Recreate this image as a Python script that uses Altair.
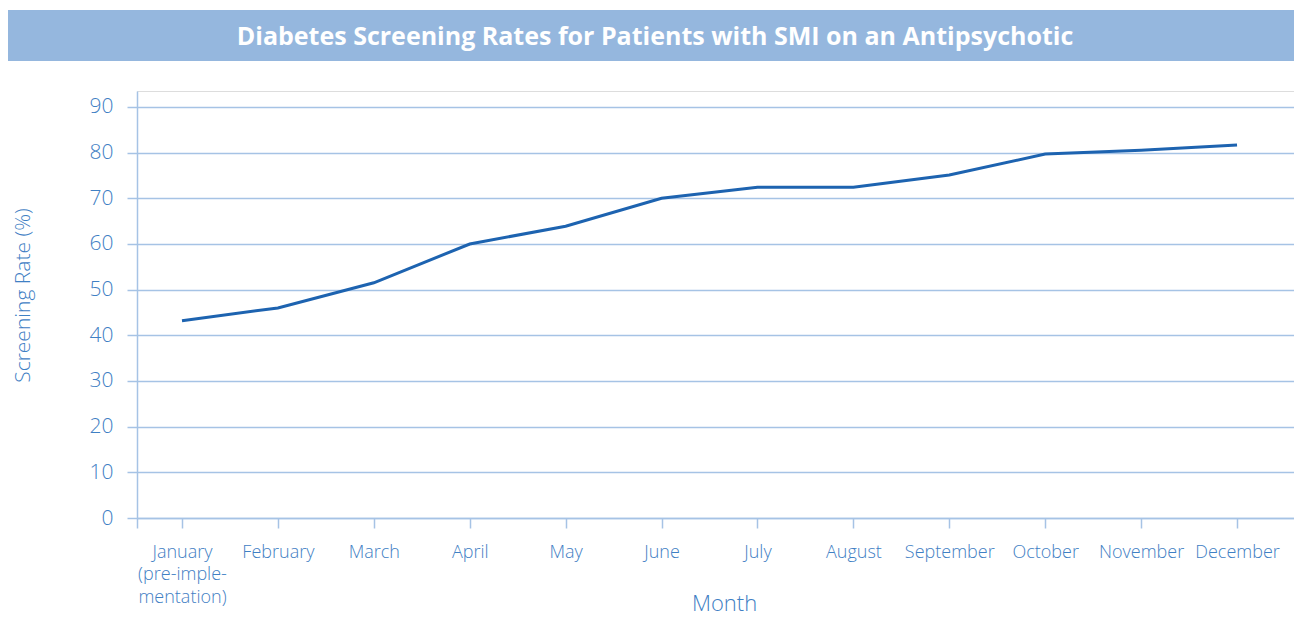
import json
import altair as alt
import pandas as pd

# ---- data ----
months = ["January", "February", "March", "April", "May", "June", "July",
          "August", "September", "October", "November", "December"]
rates = [43.2, 46.0, 51.5, 60.0, 63.9, 70.0, 72.4, 72.4, 75.1, 79.7, 80.5, 81.7]
jan_label = ["January", "(pre-imple-", "mentation)"]
y_ticks = [0, 10, 20, 30, 40, 50, 60, 70, 80, 90]
title_text = "Diabetes Screening Rates for Patients with SMI on an Antipsychotic"

df = pd.DataFrame({"month": months, "idx": list(range(1, len(months) + 1)), "rate": rates})

TEXT = "#3f80c4"
GRID = "#a6c3e5"
LINE = "#1d63b0"
BAND = "#95b7de"
FONT = "Open Sans"

W, H = 1157, 427
x_lo, x_hi = 0.531, 12.594

label_expr = (
    "datum.value < 0.9 ? '' : (datum.value == 1 ? " + json.dumps(jan_label).replace('"', "'")
    + " : " + json.dumps(months).replace('"', "'") + "[datum.value - 1])"
)

base = alt.Chart(df)

line = base.mark_line(color=LINE, strokeWidth=3).encode(
    x=alt.X(
        "idx:Q",
        scale=alt.Scale(domain=[x_lo, x_hi], nice=False, zero=False),
        axis=alt.Axis(
            values=[x_lo] + list(range(1, 13)),
            labelExpr=label_expr,
            title="Month",
            grid=False,
            labelOverlap=False,
            labelFlush=False,
            labelBound=False,
            tickSize=10,
            tickColor=GRID,
            tickWidth=1.5,
            domainColor=GRID,
            domainWidth=1.5,
            labelColor=TEXT,
            labelFont=FONT,
            labelFontSize=18,
            labelFontWeight=300,
            labelPadding=15,
            labelLineHeight=22.5,
            titleColor=TEXT,
            titleFont=FONT,
            titleFontSize=22,
            titleFontWeight=300,
            titleX=587,
            titleY=85,
            titleBaseline="middle",
            titleAlign="center",
        ),
    ),
    y=alt.Y(
        "rate:Q",
        scale=alt.Scale(domain=[0, 93.5], nice=False),
        axis=alt.Axis(
            values=y_ticks,
            title="Screening Rate (%)",
            grid=True,
            gridColor=GRID,
            gridWidth=1.5,
            tickSize=10,
            tickColor=GRID,
            tickWidth=1.5,
            domainColor=GRID,
            domainWidth=1.5,
            labelColor=TEXT,
            labelFont=FONT,
            labelFontSize=21,
            labelFontWeight=300,
            labelPadding=14,
            titleColor=TEXT,
            titleFont=FONT,
            titleFontSize=21,
            titleFontWeight=300,
            titleAngle=270,
            titleX=-114,
            titleY=204,
            titleBaseline="middle",
            titleAlign="center",
        ),
    ),
)

title_df = pd.DataFrame({"title": [title_text]})
band = alt.Chart(title_df).mark_rect(color=BAND, clip=False).encode(
    x=alt.value(-130), x2=alt.value(W), y=alt.value(-81), y2=alt.value(-30)
)
title = alt.Chart(title_df).mark_text(
    color="white", font=FONT, fontSize=25, fontWeight="bold",
    align="center", baseline="middle", clip=False
).encode(x=alt.value(518), y=alt.value(-54), text="title:N")

chart = alt.layer(band, title, line).properties(
    width=W, height=H,
    autosize=alt.AutoSizeParams(type="none"),
    padding={"left": 129, "top": 83, "right": 0, "bottom": 100},
).configure_view(fill="#eaf1f9", stroke=None).configure(background="white")

chart.save("out.html", embed_options={"renderer": "svg", "actions": False})
